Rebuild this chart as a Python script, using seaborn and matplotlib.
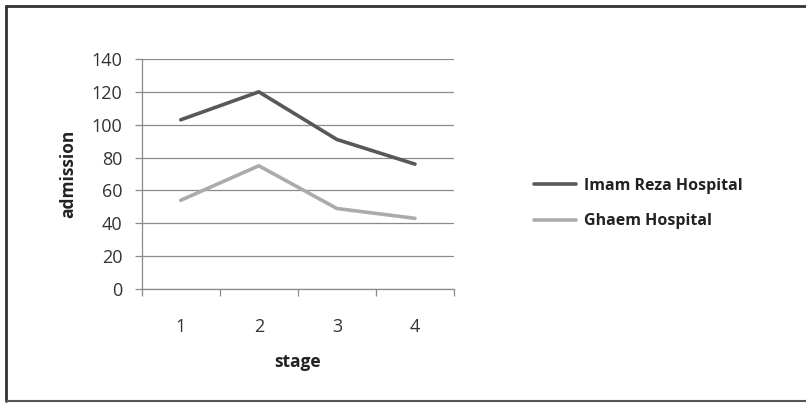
import matplotlib
matplotlib.use("Agg")
import matplotlib.pyplot as plt
import seaborn as sns
import pandas as pd
from matplotlib.lines import Line2D

stages = ["1", "2", "3", "4"]
imam_reza = [103, 120, 91, 76]
ghaem = [54, 75, 49, 43]
series_names = ["Imam Reza Hospital", "Ghaem Hospital"]
yticks = [0, 20, 40, 60, 80, 100, 120, 140]

df = pd.DataFrame({
    "stage": stages * 2,
    "admission": imam_reza + ghaem,
    "hospital": [series_names[0]] * 4 + [series_names[1]] * 4,
})

sns.set_theme(style="white")
plt.rcParams['font.family'] = ['Open Sans', 'DejaVu Sans']

fig = plt.figure(figsize=(8.06, 4.03), dpi=100)
ax = fig.add_axes([0.1758, 0.2829, 0.3875, 0.5707])

palette = {series_names[0]: "#585858", series_names[1]: "#ababab"}
sns.lineplot(data=df, x="stage", y="admission", hue="hospital", palette=palette,
             linewidth=2.6, ax=ax, legend=False, sort=False)

ax.set_xlim(-0.5, 3.5)
ax.set_ylim(0, 140)
ax.set_yticks(yticks)
ax.yaxis.grid(True, color="#8a8a8a", linewidth=0.9)
ax.xaxis.grid(False)
ax.set_axisbelow(True)
for s in ["top", "right"]:
    ax.spines[s].set_visible(False)
ax.spines["left"].set_color("#8a8a8a")
ax.spines["bottom"].set_color("#8a8a8a")
ax.spines["left"].set_linewidth(0.9)
ax.spines["bottom"].set_linewidth(0.9)

ax.set_xticks(range(len(stages)))
ax.set_xticklabels(stages)
ax.set_xticks([-0.5, 0.5, 1.5, 2.5, 3.5], minor=True)
ax.tick_params(axis="x", which="major", length=0, pad=21, labelsize=13, colors="#333333")
ax.tick_params(axis="x", which="minor", length=5, width=0.9, color="#8a8a8a", direction="out", bottom=True)
ax.tick_params(axis="y", which="major", length=5, width=0.9, color="#8a8a8a", direction="out",
               left=True, labelsize=13, pad=9, labelcolor="#333333")

ax.set_xlabel("stage", fontsize=12.5, fontweight="bold", labelpad=12, color="#222222")
ax.set_ylabel("admission", fontsize=12.5, fontweight="bold", labelpad=10, color="#222222")

handles = [Line2D([0], [0], color=palette[n], linewidth=2.6) for n in series_names]
leg = fig.legend(handles, series_names, loc="center left", bbox_to_anchor=(0.645, 0.495),
                 frameon=False, handlelength=2.6, labelspacing=1.2, handletextpad=0.5,
                 prop={"size": 11.5, "weight": "bold"})
for t in leg.get_texts():
    t.set_color("#222222")

# outer frame
fig.add_artist(Line2D([6/806, 1.0], [1 - 6/403, 1 - 6/403], transform=fig.transFigure,
                      color="#333333", linewidth=2.0))
fig.add_artist(Line2D([6/806, 6/806], [1 - 6/403, 1 - 401/403], transform=fig.transFigure,
                      color="#333333", linewidth=2.0))
fig.add_artist(Line2D([6/806, 1.0], [1 - 401/403, 1 - 401/403], transform=fig.transFigure,
                      color="#555555", linewidth=1.5))

fig.savefig("out.png", dpi=100)
